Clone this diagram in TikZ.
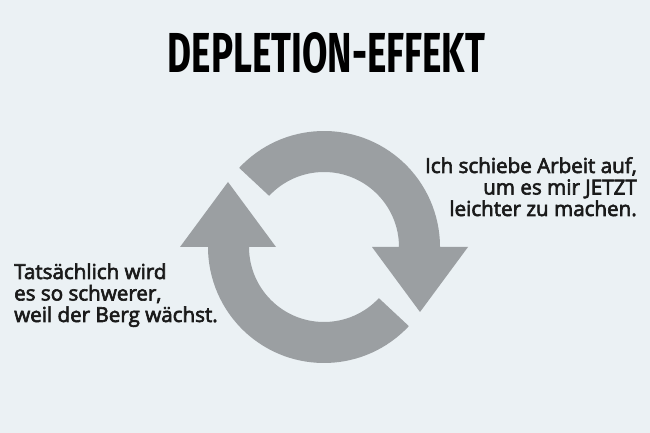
\documentclass[tikz,border=0pt]{standalone}
\usepackage{fontspec}
\usepackage{graphicx}
\usetikzlibrary{calc}
\setmainfont{Fira Sans}
\newfontfamily\captionfont{Open Sans}[FakeBold=3]
\definecolor{bgblue}{HTML}{EBF1F4}
\definecolor{arrowgrey}{HTML}{9B9FA2}
\definecolor{inkblack}{HTML}{1A1A1A}
\tikzset{
  cyclearrow/.style={fill=arrowgrey, draw=none},
  caption/.style={font=\captionfont\fontsize{20.6}{21.5}\selectfont, text=inkblack, inner sep=0pt}
}
\begin{document}
\begin{tikzpicture}[x=1pt, y=1pt]
    \fill [bgblue] (0,0) rectangle (650,433);
    \useasboundingbox (0,0) rectangle (650,433);
    \coordinate (c) at (324,186);
    % upper arrow, pointing down on the right
    \fill [cyclearrow] ($(c)+(137:116)$) arc [start angle=137, end angle=0, radius=116]
      -- ++(28,0) -- ($(c)+(96,-65)$) -- ($(c)+(48,0)$) -- ($(c)+(75,0)$)
      arc [start angle=0, end angle=137, radius=75] -- cycle;
    % lower arrow, pointing up on the left
    \fill [cyclearrow] ($(c)+(-43:116)$) arc [start angle=-43, end angle=-180, radius=116]
      -- ++(-28,0) -- ($(c)+(-96,65)$) -- ($(c)+(-48,0)$) -- ($(c)+(-75,0)$)
      arc [start angle=180, end angle=317, radius=75] -- cycle;
    \node [anchor=base, inner sep=0pt, text=black] (title) at (326.5,360)
      {\resizebox{317pt}{40pt}{\bfseries DEPLETION-EFFEKT}};
    \node [caption, align=right, anchor=base east] (later) at (637,217)
      {Ich schiebe Arbeit auf,\\ um es mir JETZT\\ leichter zu machen.};
    \node [caption, align=left, anchor=base west] (harder) at (14,111)
      {Tatsächlich wird\\ es so schwerer,\\ weil der Berg wächst.};
  \end{tikzpicture}
\end{document}
